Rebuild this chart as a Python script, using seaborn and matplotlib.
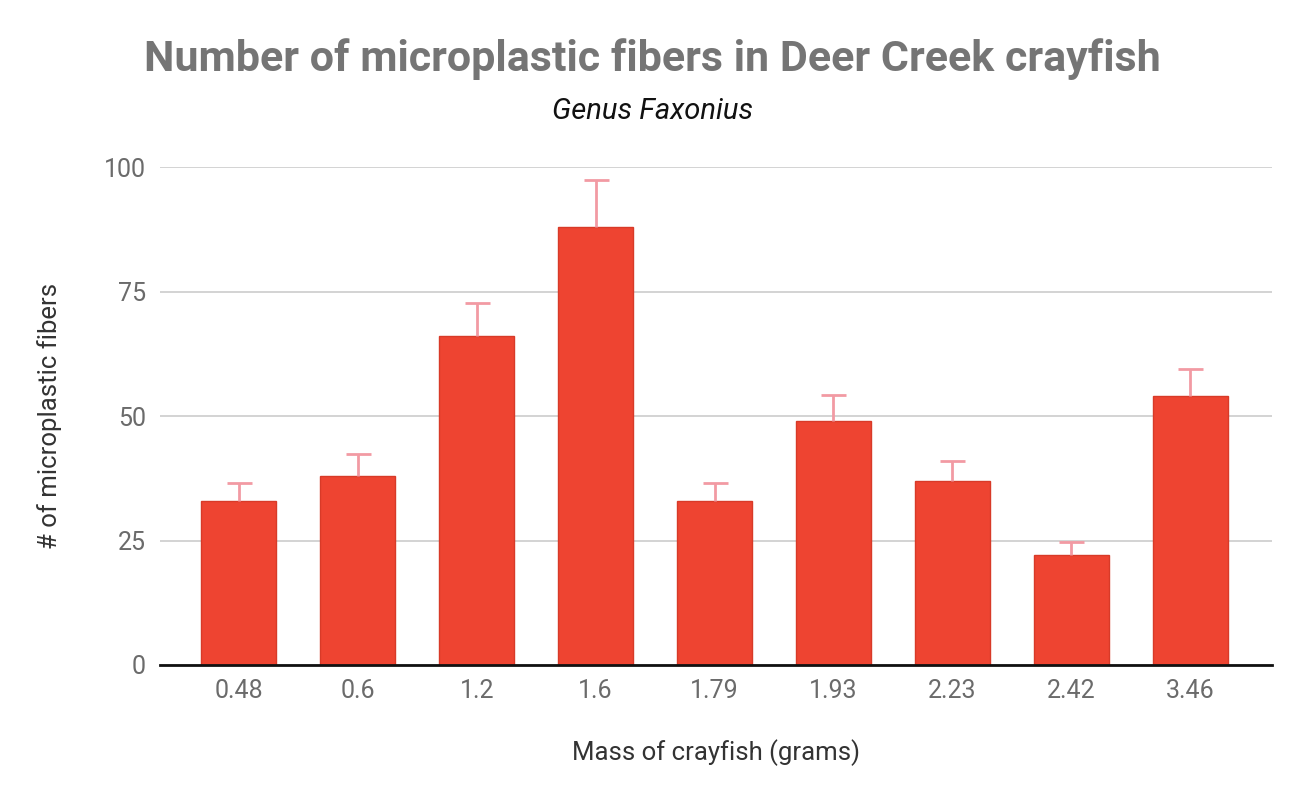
import matplotlib
matplotlib.use("Agg")
import matplotlib.pyplot as plt
import seaborn as sns
import numpy as np

masses = ["0.48", "0.6", "1.2", "1.6", "1.79", "1.93", "2.23", "2.42", "3.46"]
fibers = [33, 38, 66, 88, 33, 49, 37, 22, 54]
fiber_err = [3.5, 4.3, 6.7, 9.4, 3.6, 5.3, 4.0, 2.7, 5.5]

sns.set_style("white")
plt.rcParams['font.family'] = ['Roboto', 'DejaVu Sans']

fig = plt.figure(figsize=(13.07, 7.98), dpi=100)
ax = fig.add_axes([0.1224, 0.1667, 0.851, 0.6237])

sns.barplot(x=masses, y=fibers, color='#ee4431', width=0.63, errorbar=None,
            saturation=1, edgecolor='#d83a28', linewidth=1, ax=ax, zorder=3)
eb = ax.errorbar(np.arange(len(masses)), fibers, yerr=[np.zeros(len(fibers)), fiber_err],
                 fmt='none', ecolor='#f29aa3', elinewidth=2, capsize=9, capthick=2, zorder=4)
# only the upper cap is drawn in the original
eb[1][0].set_visible(False)

ax.set_ylim(0, 100)
ax.set_xlim(-0.664, 8.69)
ax.set_yticks([0, 25, 50, 75, 100])
ax.grid(axis='y', color='#cccccc', linewidth=1.2, zorder=0)
ax.set_axisbelow(True)
for s in ['top', 'right', 'left']:
    ax.spines[s].set_visible(False)
ax.spines['bottom'].set_color('#111111')
ax.spines['bottom'].set_linewidth(2)
ax.spines['bottom'].set_zorder(5)
ax.tick_params(axis='both', length=0, labelsize=18, colors='#6b6b6b')
ax.tick_params(axis='y', pad=10)
ax.tick_params(axis='x', pad=10)

ax.set_xlabel('Mass of crayfish (grams)', fontsize=18.5, color='#333333', labelpad=26)
ax.set_ylabel('# of microplastic fibers', fontsize=18.5, color='#333333', labelpad=30)

fig.text(0.4992, 0.926, 'Number of microplastic fibers in Deer Creek crayfish',
         ha='center', va='center', fontsize=31, fontweight='bold', color='#757575')
fig.text(0.4992, 0.861, 'Genus Faxonius', ha='center', va='center',
         fontsize=21, style='italic', color='#111111')

fig.savefig('out.png', dpi=100)
